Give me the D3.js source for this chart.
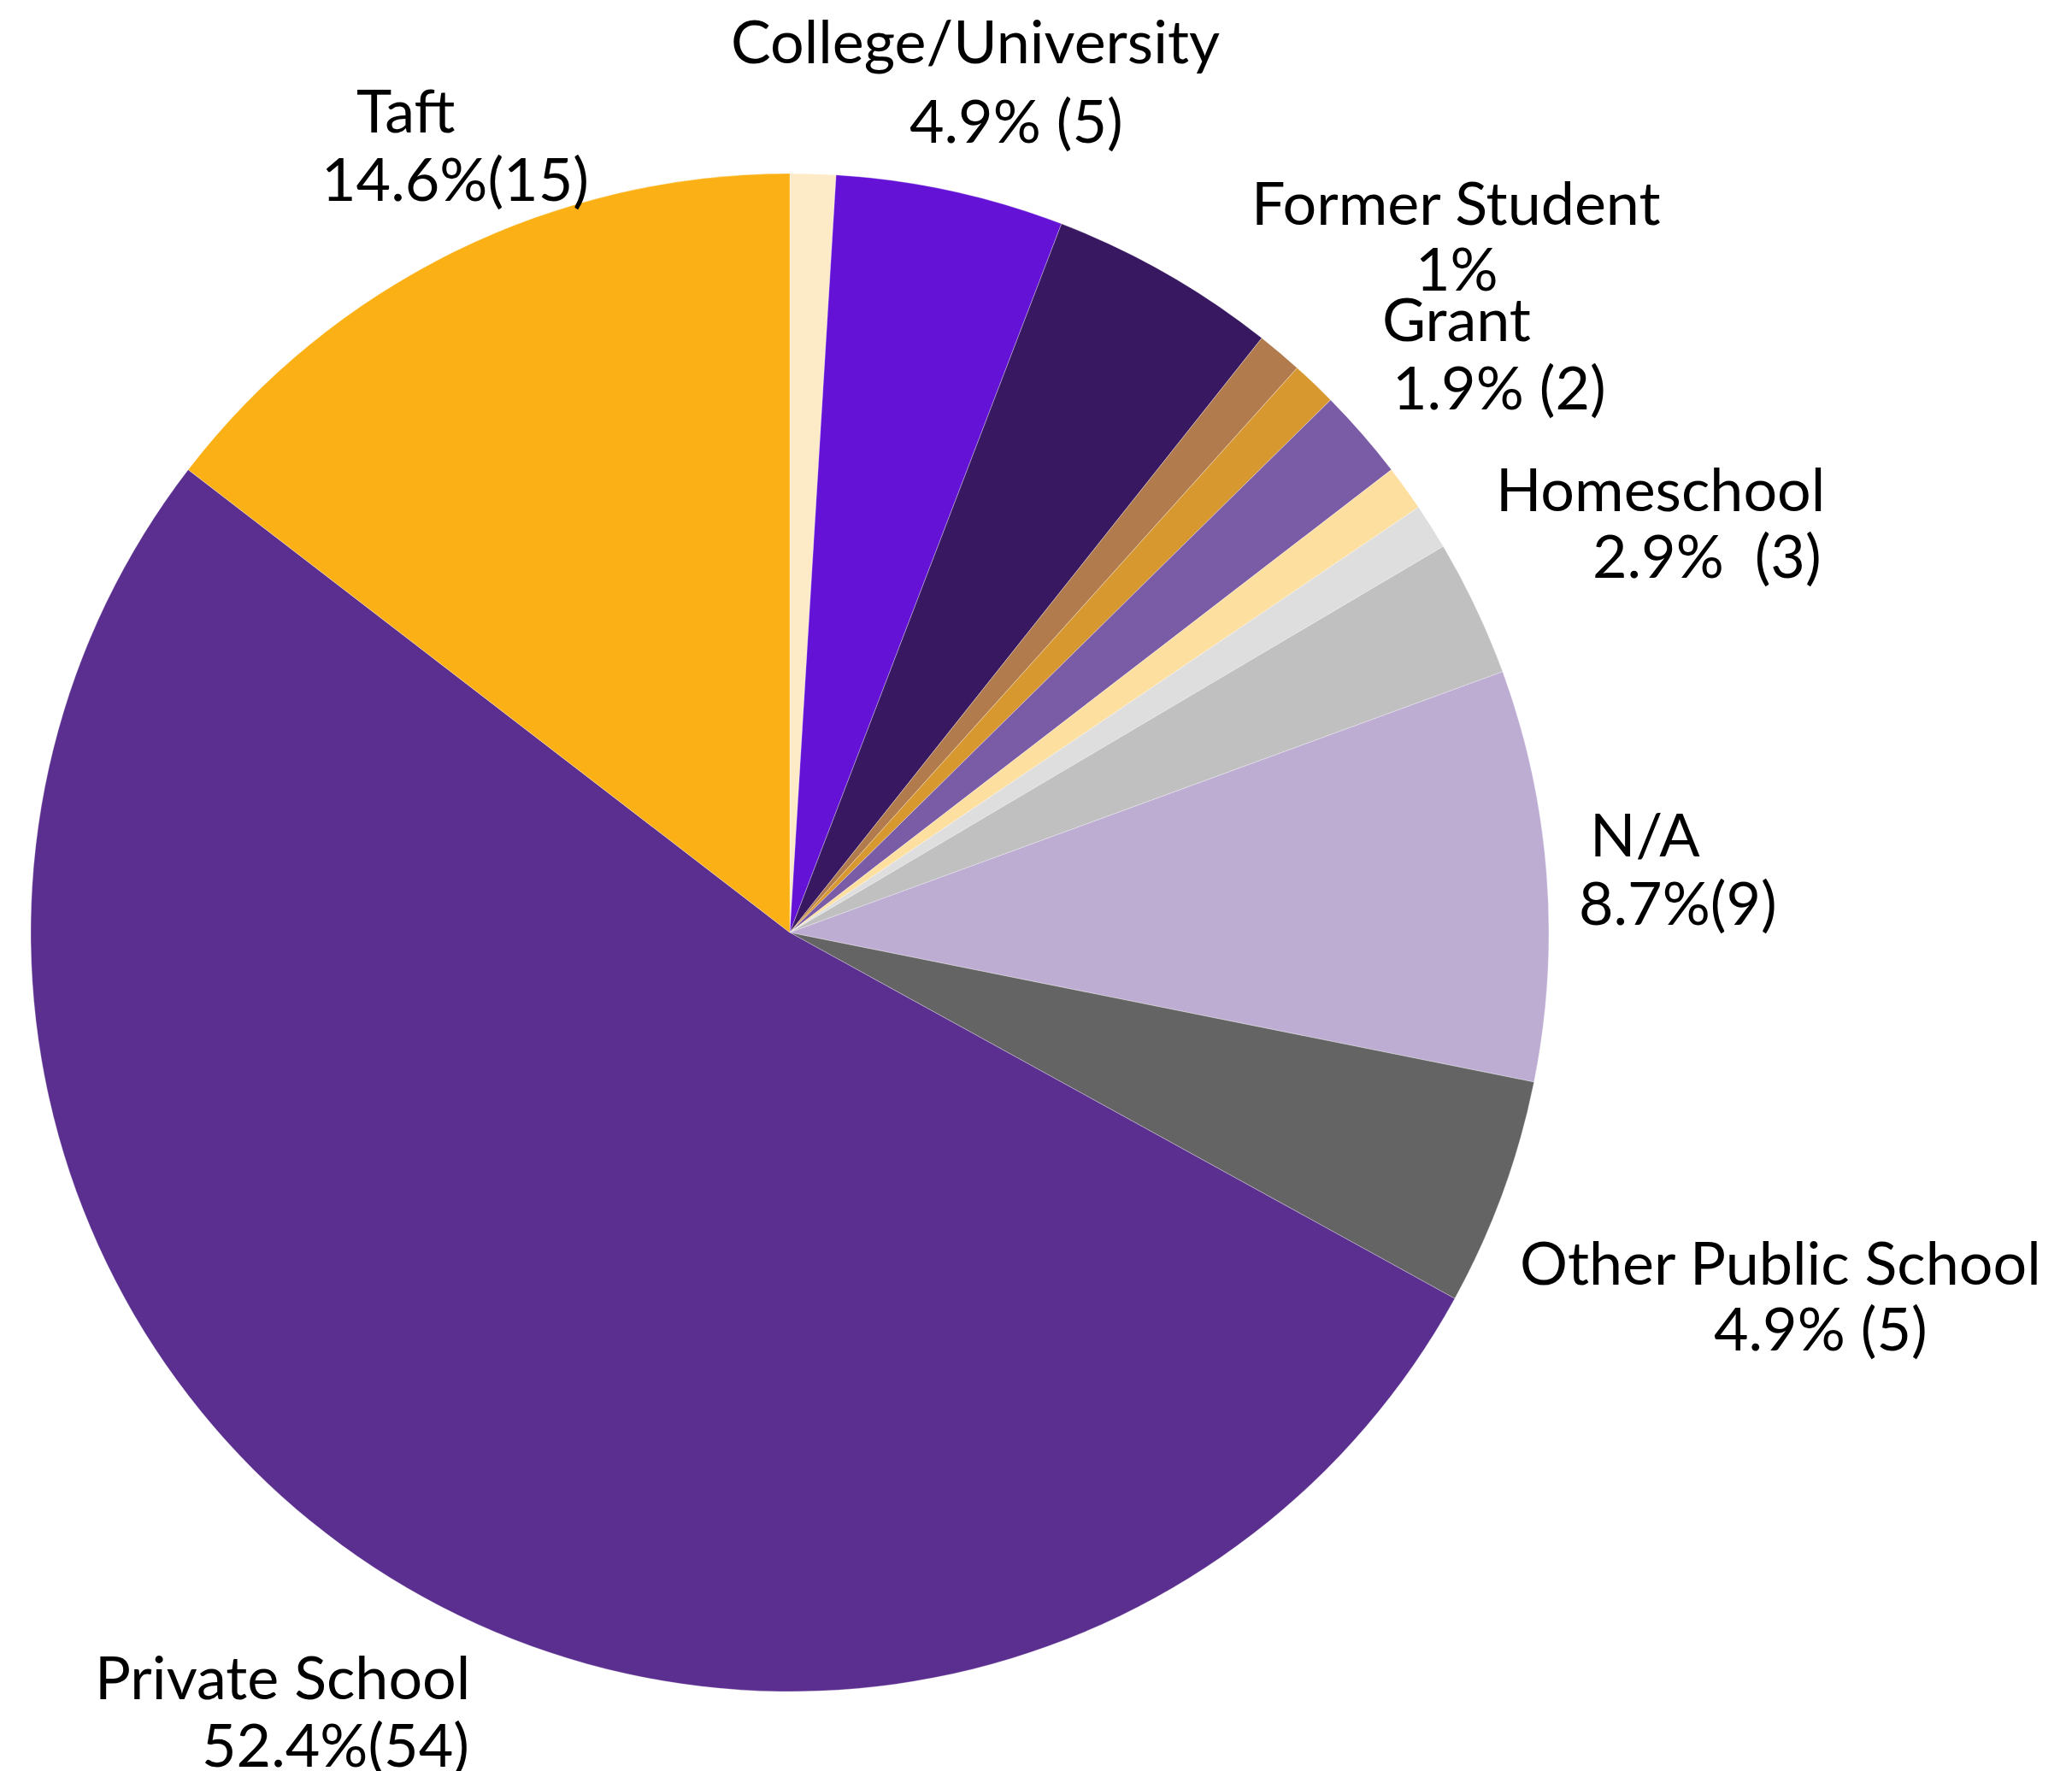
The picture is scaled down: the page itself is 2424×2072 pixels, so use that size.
<!DOCTYPE html>
<html>
<head>
<meta charset="utf-8">
<script src="https://cdn.jsdelivr.net/npm/d3@7"></script>
<style>
  html, body { margin: 0; padding: 0; background: #fff; }
  .chart text { font-family: Lato, "Open Sans", sans-serif; fill: #000; }
</style>
</head>
<body>
<svg class="chart"></svg>
<script>
// slices clockwise from 12 o'clock
var categories = ["unlabeled-a", "College/University", "unlabeled-b", "Former Student", "unlabeled-c",
                  "Grant", "unlabeled-d", "unlabeled-e", "Homeschool", "N/A",
                  "Other Public School", "Private School", "Taft"];
var counts = [1, 5, 5, 1, 1, 2, 1, 1, 3, 9, 5, 54, 15];
var colors = ["#fdebc7", "#6312d6", "#371861", "#b27b4d", "#d89830",
              "#7a5ba6", "#fddfa0", "#dedede", "#c0c0c0", "#bdadd3",
              "#646464", "#5a2f8f", "#fbb116"];

// label text, one entry per labelled slice
var labelNames = ["Taft", "College/University", "Former Student", "Grant", "Homeschool",
                  "N/A", "Other Public School", "Private School"];
var labelValues = ["14.6%(15)", "4.9% (5)", "1%", "1.9% (2)", "2.9%  (3)",
                   "8.7%(9)", "4.9% (5)", "52.4%(54)"];

function show() {
    'use strict';
    var width = 2424, height = 2072,
        cx = 924, cy = 1091, radius = 888;

    var svg = d3.select(".chart")
        .attr("width", width)
        .attr("height", height);

    var pie = d3.pie().sort(null).value(function(d) { return d; });
    var arc = d3.arc().innerRadius(0).outerRadius(radius);

    var g = svg.append("g")
        .attr("transform", "translate(" + cx + "," + cy + ")");

    g.selectAll("path")
        .data(pie(counts))
        .enter()
        .append("path")
        .attr("d", arc)
        .attr("fill", function(d, i) { return colors[i]; })
        .attr("stroke", "#fff")
        .attr("stroke-width", 0.6)
        .attr("stroke-opacity", 0.5);

    // hand placed label lines: [x, baseline] for name line and value line
    var layout = {
        "Taft":                [[417, 155], [376, 235]],
        "College/University":  [[855, 74],  [1064, 167]],
        "Former Student":      [[1464, 263], [1656, 340]],
        "Grant":               [[1617, 399], [1629, 479]],
        "Homeschool":          [[1750, 598], [1863, 676]],
        "N/A":                 [[1860, 1002], [1847, 1082]],
        "Other Public School": [[1778, 1503], [2005, 1580]],
        "Private School":      [[111, 1988], [236, 2067]]
    };

    var labels = svg.append("g").attr("font-size", 70);

    labelNames.forEach(function(name, i) {
        var pos = layout[name];
        labels.append("text")
            .attr("x", pos[0][0]).attr("y", pos[0][1])
            .text(name);
        labels.append("text")
            .attr("x", pos[1][0]).attr("y", pos[1][1])
            .attr("xml:space", "preserve")
            .style("white-space", "pre")
            .text(labelValues[i]);
    });
}
show();
</script>
</body>
</html>
